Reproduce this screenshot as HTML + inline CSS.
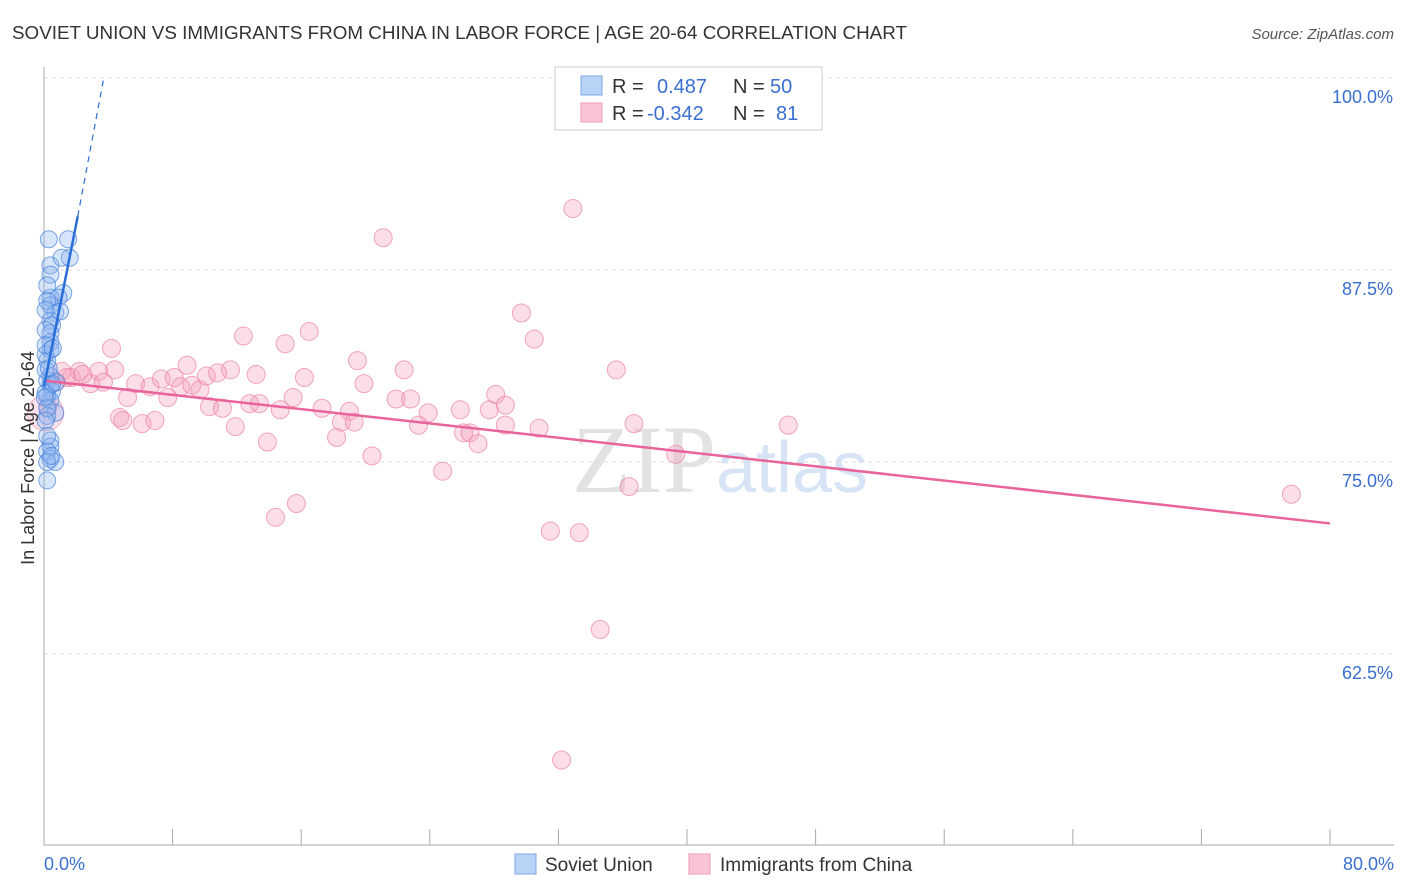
<!DOCTYPE html>
<html><head><meta charset="utf-8"><style>
body{margin:0;background:#fff;font-family:"Liberation Sans",sans-serif;}
svg{display:block}
</style></head><body>
<svg id="chart" width="1406" height="892" xmlns="http://www.w3.org/2000/svg">
<text x="12" y="39" font-size="18" fill="#333" textLength="895" lengthAdjust="spacingAndGlyphs">SOVIET UNION VS IMMIGRANTS FROM CHINA IN LABOR FORCE | AGE 20-64 CORRELATION CHART</text>
<text x="1394" y="39" font-size="15" fill="#555" font-style="italic" text-anchor="end">Source: ZipAtlas.com</text>
<text x="720" y="492" font-size="96" fill="#ddd" text-anchor="middle" font-family="Liberation Serif,serif"><tspan fill="#e2e2e2">ZIP</tspan><tspan fill="#d6e4f5" font-family="Liberation Sans,sans-serif" font-size="72">atlas</tspan></text>
<g id="grid"></g>
<g id="axes"></g>
<g id="pts"></g>
<g id="lines"></g>
<text transform="translate(34,458) rotate(-90)" font-size="18" fill="#333" text-anchor="middle">In Labor Force | Age 20-64</text>
<g>
<rect x="555" y="67" width="267" height="63" fill="#fff" stroke="#ccc"/>
<rect x="581" y="76" width="21" height="19" fill="#b8d3f5" stroke="#7aa7e6"/>
<rect x="581" y="103" width="21" height="19" fill="#f9c5d5" stroke="#ee9ab5"/>
<text x="612" y="93" font-size="20" fill="#333">R = </text><text x="657" y="93" font-size="20" fill="#3a6fd0">0.487</text>
<text x="733" y="93" font-size="20" fill="#333">N = </text><text x="770" y="93" font-size="20" fill="#3a6fd0">50</text>
<text x="612" y="120" font-size="20" fill="#333">R = </text><text x="647" y="120" font-size="20" fill="#3a6fd0">-0.342</text>
<text x="733" y="120" font-size="20" fill="#333">N = </text><text x="776" y="120" font-size="20" fill="#3a6fd0">81</text>
</g>
<g>
<rect x="515" y="854" width="21" height="20" fill="#b8d3f5" stroke="#7aa7e6"/>
<text x="545" y="871" font-size="19" fill="#333">Soviet Union</text>
<rect x="689" y="854" width="21" height="20" fill="#f9c5d5" stroke="#ee9ab5"/>
<text x="720" y="871" font-size="19" fill="#333">Immigrants from China</text>
</g>
</svg>
<script>
const yTicks=[100,87.5,75,62.5];
const yTickLabels=["100.0%","87.5%","75.0%","62.5%"];
const xTickLabels=["0.0%","80.0%"];
const sovietX=[0.3,1.5,0.4,1.6,1.1,0.4,1.2,0.4,0.9,0.4,0.7,0.4,0.5,0.4,0.4,0.4,0.2,0.4,0.2,0.4,0.5,0.2,0.4,0.7,0.2,0.4,0.4,0.2,0.4,0.7,0.2,0.2,0.1,0.1,0.1,0.1,0.2,0.5,0.75,0.2,0.2,1.0,0.1,0.1,0.55,0.3,0.05,0.2,0.45,0.1];
const sovietY=[89.5,89.5,87.8,88.3,88.3,87.2,86.0,85.7,85.7,85.2,84.7,84.2,83.9,83.4,82.8,82.3,81.6,80.6,80.3,80.0,79.6,79.3,79.0,78.2,78.0,76.4,76.0,75.7,75.2,75.0,75.0,73.8,83.6,82.0,81.0,79.5,78.5,80.1,80.2,85.5,86.5,84.8,77.7,82.6,82.4,81.1,79.2,76.7,75.4,84.9];
const chinaX=[32.9,21.1,29.7,30.5,35.6,12.4,16.5,15.0,4.2,19.5,22.4,8.9,11.6,13.2,16.2,19.9,3.4,1.1,2.2,1.7,2.9,3.7,5.7,6.6,7.3,8.1,8.5,9.2,9.7,10.1,10.8,5.2,7.7,10.3,11.1,12.8,13.4,14.7,15.5,17.3,19.0,21.9,22.8,23.9,25.9,27.7,28.1,28.7,4.7,4.9,6.1,6.9,11.9,18.5,19.3,23.3,26.1,26.5,27.0,28.7,30.8,36.7,46.3,13.9,18.2,20.4,24.8,39.3,15.7,36.4,14.4,31.5,33.3,34.6,32.2,77.6,0.75,0.25,1.4,2.4,4.4];
const chinaY=[91.5,89.6,84.7,83.0,81.0,83.2,83.5,82.7,82.4,81.6,81.0,81.3,81.0,80.7,80.5,80.1,80.9,80.9,80.9,80.5,80.1,80.2,80.1,79.9,80.4,80.5,79.9,80.0,79.7,80.6,80.8,79.2,79.2,78.6,78.5,78.8,78.8,78.4,79.2,78.5,78.3,79.1,79.1,78.2,78.4,78.4,79.4,78.7,77.9,77.7,77.5,77.7,77.3,77.6,77.6,77.4,76.9,76.9,76.2,77.4,77.2,77.5,77.4,76.3,76.6,75.4,74.4,75.5,72.3,73.4,71.4,70.5,70.4,64.1,55.6,72.9,80.2,78.6,80.5,80.7,81.0];
const sovietLine=[[0,79.9],[2.1,91.0]];
const sovietDash=[[2.1,91.0],[3.7,99.9]];
const chinaLine=[[0,80.3],[80,71.0]];
const NS="http://www.w3.org/2000/svg";
const xs=v=>44+v*(1286/80);
const ys=v=>78+(100-v)*(192/12.5);
function mk(t,a,p){const e=document.createElementNS(NS,t);for(const k in a)e.setAttribute(k,a[k]);document.getElementById(p).appendChild(e);return e;}
yTicks.forEach((t,i)=>{
 const g=mk('line',{x1:44,x2:1394,y1:ys(t),y2:ys(t),stroke:'#ddd','stroke-dasharray':'4,4'},'grid');
 
 
 const l=mk('text',{x:1393,y:ys(t)+25,'font-size':18,fill:'#3a6fd0','text-anchor':'end'},'axes');
 l.textContent=yTickLabels[i];
 
 
});
const ax=mk('line',{x1:44,x2:44,y1:67,y2:845,stroke:'#aaa'},'axes');


const bx=mk('line',{x1:44,x2:1394,y1:845,y2:845,stroke:'#aaa'},'axes');


for(let i=0;i<=10;i++){const t=mk('line',{x1:xs(i*8),x2:xs(i*8),y1:829,y2:845,stroke:'#aaa'},'axes');
 
 }
[[0,'start',44],[80,'end',1394]].forEach((d,i)=>{const l=mk('text',{x:d[2],y:870,'font-size':18,fill:'#3a6fd0','text-anchor':d[1]},'axes');l.textContent=xTickLabels[i];
 
 });
chinaX.forEach((x,i)=>{const c=mk('circle',{cx:xs(x),cy:ys(chinaY[i]),r:9,fill:'rgba(244,160,188,0.35)',stroke:'rgba(236,130,165,0.7)'},'pts');
 
 });
const big=mk('circle',{cx:xs(0.1),cy:ys(78.2),r:18,fill:'rgba(244,160,188,0.3)',stroke:'rgba(236,130,165,0.6)'},'pts');


sovietX.forEach((x,i)=>{const c=mk('circle',{cx:xs(x),cy:ys(sovietY[i]),r:8.5,fill:'rgba(140,180,240,0.35)',stroke:'rgba(70,130,220,0.7)'},'pts');
 
 });
const l1=mk('line',{x1:xs(chinaLine[0][0]),y1:ys(chinaLine[0][1]),x2:xs(chinaLine[1][0]),y2:ys(chinaLine[1][1]),stroke:'#e8649a','stroke-width':2.5},'lines');


const l2=mk('line',{x1:xs(sovietLine[0][0]),y1:ys(sovietLine[0][1]),x2:xs(sovietLine[1][0]),y2:ys(sovietLine[1][1]),stroke:'#2a6ed8','stroke-width':2.5},'lines');


const l3=mk('line',{x1:xs(sovietDash[0][0]),y1:ys(sovietDash[0][1]),x2:xs(sovietDash[1][0]),y2:ys(sovietDash[1][1]),stroke:'#2a6ed8','stroke-width':1.2,'stroke-dasharray':'6,5'},'lines');


</script>
</body></html>
